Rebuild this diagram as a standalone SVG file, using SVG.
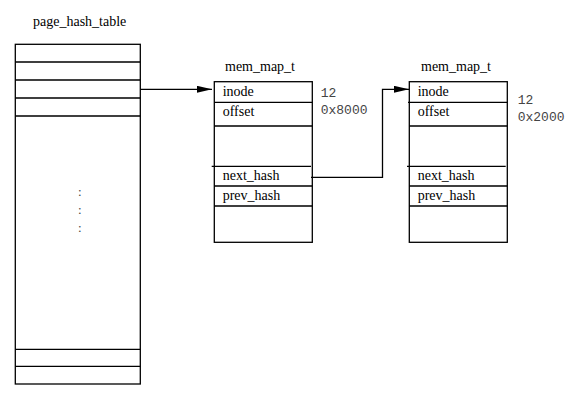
<svg xmlns="http://www.w3.org/2000/svg" width="583" height="406" viewBox="0 0 583 406">
<style>
.box{fill:#fff;stroke:#000;stroke-width:1.3}
.ln{stroke:#000;stroke-width:1.3;fill:none}
.lbl{font-family:"Liberation Serif","Times New Roman",serif;font-size:14px;fill:#000}
.mono{font-family:"Liberation Mono","Courier New",monospace;font-size:13px;fill:#444}
.dots{font-family:"Liberation Serif",serif;font-size:13px;fill:#444}
</style>
<defs>
<marker id="arr" markerUnits="userSpaceOnUse" markerWidth="16" markerHeight="8" refX="15" refY="3.5" orient="auto">
<path d="M0,0 L15,3.5 L0,7 Z" fill="#000"/>
</marker>
</defs>
<rect width="583" height="406" fill="#fff"/>
<g id="page_hash_table">
<text class="lbl" x="33" y="26">page_hash_table</text>
<rect class="box" x="15.3" y="44.3" width="125" height="339.7"/>
<path class="ln" d="M15.3,62H140.3M15.3,80H140.3M15.3,98H140.3M15.3,116H140.3M15.3,349.3H140.3M15.3,366.3H140.3"/>
<text class="dots" x="78" y="196">:</text>
<text class="dots" x="78" y="214">:</text>
<text class="dots" x="78" y="232">:</text>
</g>
<g id="mem_map_1">
<text class="lbl" x="260" y="71" text-anchor="middle">mem_map_t</text>
<rect class="box" x="214.3" y="81.7" width="98" height="160.6"/>
<path class="ln" d="M214.3,102.3H312.3M214.3,126H312.3M211.7,166.3H311M214.3,186H312.3M214.3,206H312.3"/>
<text class="lbl" x="222.7" y="95.5">inode</text>
<text class="lbl" x="222.7" y="116">offset</text>
<text class="lbl" x="222.7" y="180">next_hash</text>
<text class="lbl" x="222.7" y="199.5">prev_hash</text>
<text class="mono" x="320.7" y="97">12</text>
<text class="mono" x="320.7" y="113.5">0x8000</text>
</g>
<g id="mem_map_2">
<text class="lbl" x="456" y="71" text-anchor="middle">mem_map_t</text>
<rect class="box" x="409.3" y="81.7" width="98" height="160.6"/>
<path class="ln" d="M408,102.3H507.3M409.3,126H507.3M407,166.3H505.7M409.3,186H507.3M409.3,206H507.3"/>
<text class="lbl" x="417.7" y="95.5">inode</text>
<text class="lbl" x="417.7" y="116">offset</text>
<text class="lbl" x="417.7" y="180">next_hash</text>
<text class="lbl" x="417.7" y="199.5">prev_hash</text>
<text class="mono" x="517.7" y="104">12</text>
<text class="mono" x="517.7" y="120.5">0x2000</text>
</g>
<g id="connectors">
<path class="ln" d="M140.3,89.3H212" marker-end="url(#arr)"/>
<path class="ln" d="M311,177.3H382.5V89.3H409" marker-end="url(#arr)"/>
</g>
</svg>
